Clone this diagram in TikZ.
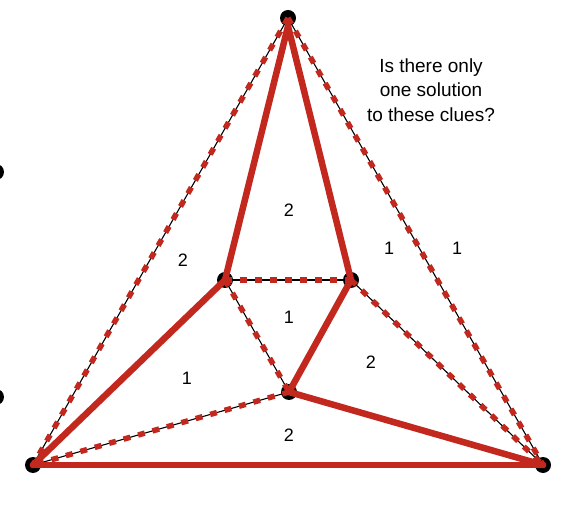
\documentclass[tikz,border=0pt]{standalone}
\usepackage{fontspec}
\setmainfont{Liberation Sans}
\definecolor{brick}{RGB}{194,40,30}
\begin{document}
\begin{tikzpicture}[x=1pt,y=-1pt,
  dot/.style={circle,fill=black,minimum size=16pt,inner sep=0pt},
  sedge/.style={draw=brick,line width=6.5pt,line cap=round},
  dedge/.style={draw=black,line width=1.1pt,
    postaction={draw=brick,line width=5.5pt,dash pattern=on 7pt off 8pt}},
  lab/.style={font=\fontsize{18}{21}\selectfont}]
\useasboundingbox (0,0) rectangle (578,510);
\clip (0,0) rectangle (578,510);
\node[dot] (T) at (288,18) {};
\node[dot] (A) at (33,465) {};
\node[dot] (B) at (543,465) {};
\node[dot] (L) at (225,280) {};
\node[dot] (R) at (351,280) {};
\node[dot] (M) at (289,392) {};
\node[dot] (P) at (-4,172) {};
\node[dot] (Q) at (-4,397) {};
% dashed edges
\draw[dedge] (T.center) -- (A.center);
\draw[dedge] (T.center) -- (B.center);
\draw[dedge] (L.center) -- (R.center);
\draw[dedge] (L.center) -- (M.center);
\draw[dedge] (M.center) -- (A.center);
\draw[dedge] (R.center) -- (B.center);
% solid edges
\draw[sedge] (T.south) -- (L.center);
\draw[sedge] (T.south) -- (R.center);
\draw[sedge] (L.center) -- (A.center);
\draw[sedge] (R.center) -- (M.center);
\draw[sedge] (M.center) -- (B.center);
\draw[sedge] (A.center) -- (B.center);
% labels
\node[lab] (l1) at (289,210) {2};
\node[lab] (l2) at (183,260) {2};
\node[lab] (l3) at (389,248) {1};
\node[lab] (l4) at (457,248) {1};
\node[lab] (l5) at (289,317) {1};
\node[lab] (l6) at (187,378) {1};
\node[lab] (l7) at (371,362) {2};
\node[lab] (l8) at (289,435) {2};
\node[align=center,font=\fontsize{19}{24.5}\selectfont] (q) at (431,90) {Is there only\\one solution\\to these clues?};
\end{tikzpicture}
\end{document}
